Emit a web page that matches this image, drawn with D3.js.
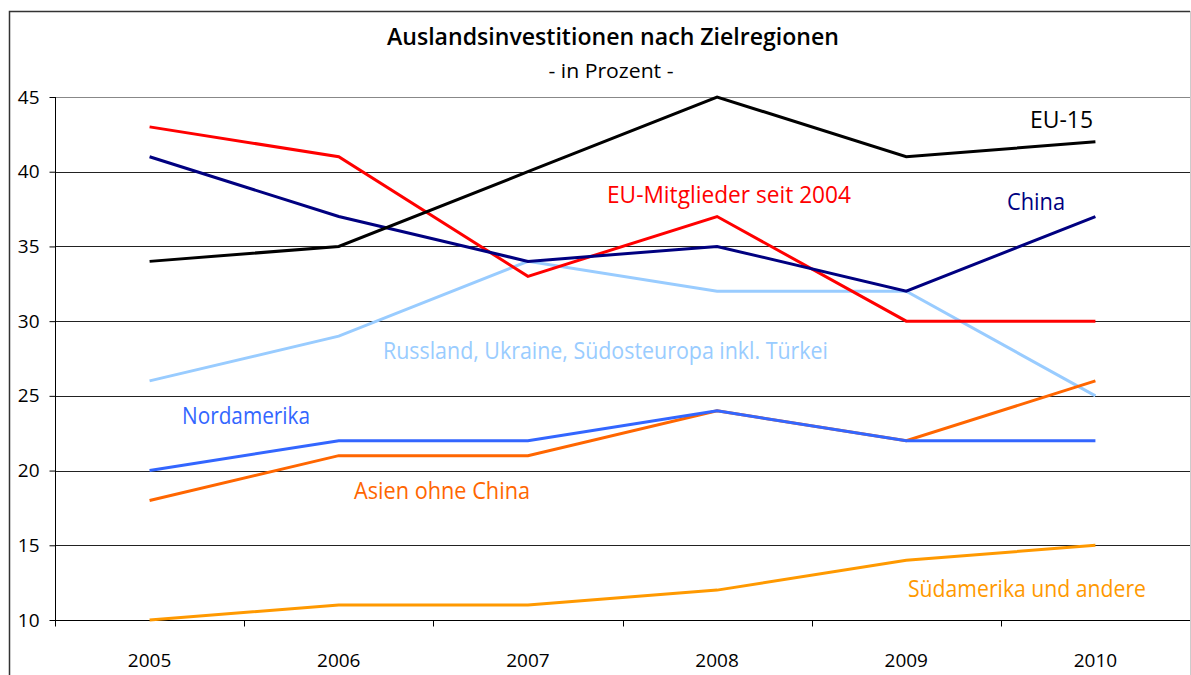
<!DOCTYPE html>
<html>
<head>
<meta charset="utf-8">
<script src="https://cdn.jsdelivr.net/npm/d3@7"></script>
<style>
  body { margin: 0; background: #fff; }
  text { font-family: "Open Sans", sans-serif; }
</style>
</head>
<body>
<svg id="chart" width="1191" height="675"></svg>
<script>
// données
const years = ['2005', '2006', '2007', '2008', '2009', '2010'];
const yTicks = [10, 15, 20, 25, 30, 35, 40, 45];

const eu15 = [34, 35, 40, 45, 41, 42];
const euNeu = [43, 41, 33, 37, 30, 30];
const china = [41, 37, 34, 35, 32, 37];
const russland = [26, 29, 34, 32, 32, 25];
const nordamerika = [20, 22, 22, 24, 22, 22];
const asien = [18, 21, 21, 24, 22, 26];
const suedamerika = [10, 11, 11, 12, 14, 15];

// ordre de dessin (le dernier au-dessus)
const series = [
  { name: 'Südamerika und andere', values: suedamerika, color: '#ff9900', lx: 908, ly: 597, lw: 238 },
  { name: 'Russland, Ukraine, Südosteuropa inkl. Türkei', values: russland, color: '#99ccff', lx: 383, ly: 359, lw: 445 },
  { name: 'Asien ohne China', values: asien, color: '#ff6600', lx: 354, ly: 499, lw: 176 },
  { name: 'Nordamerika', values: nordamerika, color: '#3366ff', lx: 182, ly: 424, lw: 128 },
  { name: 'EU-Mitglieder seit 2004', values: euNeu, color: '#ff0000', lx: 607, ly: 203, lw: 244 },
  { name: 'China', values: china, color: '#000080', lx: 1007, ly: 210, lw: 58 },
  { name: 'EU-15', values: eu15, color: '#000000', lx: 1030, ly: 128, lw: 63 }
];

const margin = { left: 55, right: 1190, top: 97, bottom: 620 };
const svg = d3.select('#chart');

// cadre extérieur
svg.append('path')
  .attr('d', 'M9.5,700V11.5H1190')
  .attr('fill', 'none').attr('stroke', '#333').attr('stroke-width', 1.5);

const x = d3.scaleBand().domain(years).range([margin.left, margin.right]);
const y = d3.scaleLinear().domain([10, 45]).range([margin.bottom, margin.top]);

// grille
svg.append('g')
  .selectAll('line')
  .data(yTicks.filter(d => d > 10))
  .enter()
  .append('line')
  .attr('x1', margin.left).attr('x2', margin.right)
  .attr('y1', d => Math.round(y(d)) + 0.5).attr('y2', d => Math.round(y(d)) + 0.5)
  .attr('stroke', d => d === 45 ? '#888' : '#222')
  .attr('stroke-width', 1);

// bord droit
svg.append('line')
  .attr('x1', margin.right + 0.5).attr('x2', margin.right + 0.5)
  .attr('y1', 11).attr('y2', 675)
  .attr('stroke', '#ccc');

// axe Y
const yAxis = svg.append('g')
  .attr('transform', `translate(${margin.left + 0.5},0)`)
  .call(d3.axisLeft(y).tickValues(yTicks).tickSize(6).tickPadding(10));
yAxis.selectAll('line').attr('stroke', '#000');
yAxis.select('.domain').attr('stroke', '#000').attr('d', `M0,${margin.top}V${margin.bottom}`);
yAxis.selectAll('text')
  .attr('font-size', 19).attr('fill', '#000')
  .style('font-family', '"Open Sans", sans-serif');

// axe X
const xAxis = svg.append('g')
  .attr('transform', `translate(0,${Math.round(y(10)) + 0.5})`)
  .call(d3.axisBottom(x).tickSize(0).tickPadding(33));
xAxis.select('.domain').attr('stroke', '#000').attr('d', `M${margin.left},0H${margin.right}`);
xAxis.selectAll('text')
  .attr('font-size', 19).attr('fill', '#000')
  .style('font-family', '"Open Sans", sans-serif');
// graduations entre les catégories
xAxis.append('g')
  .selectAll('line')
  .data(years)
  .enter()
  .append('line')
  .attr('x1', d => Math.round(x(d)) + 0.5).attr('x2', d => Math.round(x(d)) + 0.5)
  .attr('y1', 0).attr('y2', 6)
  .attr('stroke', '#000');

// lignes
const line = d3.line()
  .x((d, i) => x(years[i]) + x.bandwidth() / 2)
  .y(d => y(d));

svg.append('g')
  .selectAll('path')
  .data(series)
  .enter()
  .append('path')
  .attr('d', d => line(d.values))
  .attr('fill', 'none')
  .attr('stroke', d => d.color)
  .attr('stroke-width', 3);

// étiquettes des séries
svg.append('g')
  .selectAll('text')
  .data(series)
  .enter()
  .append('text')
  .attr('x', d => d.lx)
  .attr('y', d => d.ly)
  .attr('font-size', 23)
  .attr('fill', d => d.color)
  .attr('textLength', d => d.lw)
  .attr('lengthAdjust', 'spacingAndGlyphs')
  .text(d => d.name);

// titre
svg.append('text')
  .attr('x', 613).attr('y', 45)
  .attr('text-anchor', 'middle')
  .attr('font-size', 23).attr('font-weight', 600)
  .attr('textLength', 452).attr('lengthAdjust', 'spacingAndGlyphs')
  .text('Auslandsinvestitionen nach Zielregionen');

svg.append('text')
  .attr('x', 611).attr('y', 78)
  .attr('text-anchor', 'middle')
  .attr('font-size', 20)
  .attr('textLength', 125).attr('lengthAdjust', 'spacingAndGlyphs')
  .text('- in Prozent -');
</script>
</body>
</html>
